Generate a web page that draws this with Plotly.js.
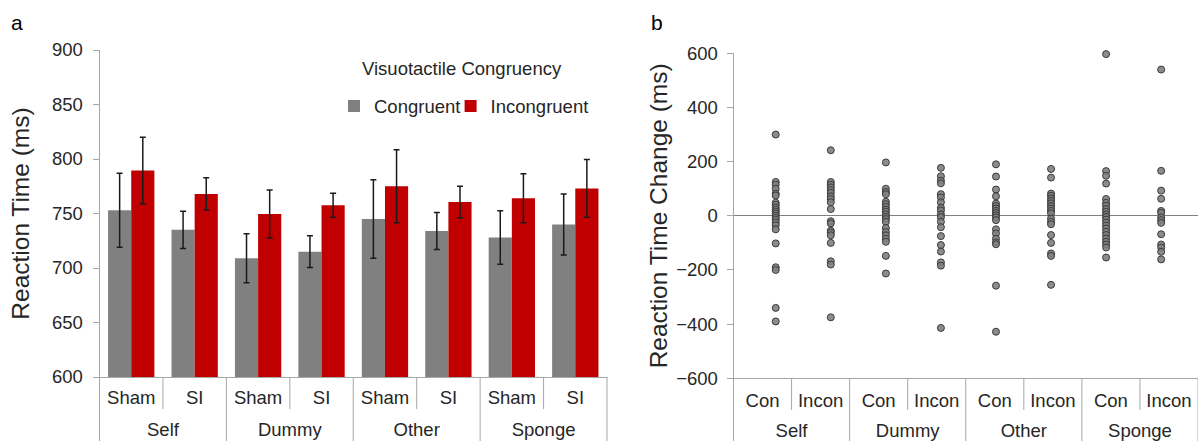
<!DOCTYPE html>
<html>
<head>
<meta charset="utf-8">
<script src="https://cdn.plot.ly/plotly-3.0.1.min.js"></script>
<style>html,body{margin:0;padding:0;background:#fff}#chart{width:1198px;height:441px}</style>
</head>
<body>
<div id="chart"></div>
<script>
// ---------- Data ----------
const bodyParts = ['Self', 'Dummy', 'Other', 'Sponge'];
const stimTypes = ['Sham', 'SI'];
const congruencyLabels = ['Con', 'Incon'];
const legendTitle = 'Visuotactile Congruency';

// Panel a: mean reaction times (ms), order: Self Sham, Self SI, Dummy Sham, Dummy SI, Other Sham, Other SI, Sponge Sham, Sponge SI
const congruentRT   = [753, 735, 709, 715, 745, 734, 728, 740];
const congruentErr  = [34, 17, 22.5, 14.5, 36, 17, 24.5, 28];
const incongruentRT = [789.5, 768, 749.5, 757.5, 775, 760.5, 764, 773];
const incongruentErr= [30.5, 14.7, 22, 11, 33.5, 14.5, 22.5, 26.5];

// Panel b: individual reaction time changes (ms)
const selfCon    = [300, 125, 115, 100, 82, 75, 48, 40, 30, 22, 15, 8, 0, -8, -15, -25, -35, -50, -102, -190, -200, -340, -390];
const selfIncon  = [242, 125, 115, 105, 95, 85, 72, 62, 50, 25, -20, -28, -55, -62, -72, -100, -168, -180, -375];
const dummyCon   = [197, 100, 88, 80, 52, 43, 33, 23, 15, 5, -4, -12, -22, -45, -60, -72, -85, -96, -148, -213];
const dummyIncon = [177, 146, 130, 120, 80, 68, 50, 30, 20, 5, -5, -22, -42, -75, -108, -132, -172, -184, -414];
const otherCon   = [190, 145, 97, 72, 45, 36, 27, 18, 10, 2, -6, -16, -50, -65, -84, -98, -105, -258, -428];
const otherIncon = [173, 141, 82, 74, 64, 55, 46, 36, 27, 18, 9, -10, -22, -31, -71, -100, -139, -148, -255];
const spongeCon  = [597, 165, 148, 119, 62, 48, 37, 25, 15, 5, -4, -14, -25, -36, -47, -59, -71, -84, -96, -106, -117, -154];
const spongeIncon= [540, 166, 93, 63, 18, 11, -6, -16, -26, -68, -106, -117, -133, -161];
const changeColumns = [selfCon, selfIncon, dummyCon, dummyIncon, otherCon, otherIncon, spongeCon, spongeIncon];

// ---------- Build ----------
const keysA = [], innerA = [];
bodyParts.forEach(b => stimTypes.forEach(s => { keysA.push(b + ' ' + s); innerA.push(s); }));
const innerB = [];
bodyParts.forEach(() => congruencyLabels.forEach(c => innerB.push(c)));
const idxB = innerB.map((_, i) => i);
const outerTickVals = bodyParts.map((_, k) => 2 * k + 0.5);

const dotX = [], dotY = [];
changeColumns.forEach((col, i) => col.forEach(v => { dotX.push(i + 1); dotY.push(v); }));

const errStyle = {type: 'data', visible: true, color: '#1a1a1a', thickness: 1.5, width: 3};
const FONT = 'Liberation Sans, Arial, Helvetica, sans-serif';
const AXC = '#a6a6a6';
const TXT = '#262626';
const FS = 18.5;

function ghost(xs, yv, xa, ya) {
  return {type: 'scatter', mode: 'markers', x: xs, y: xs.map(() => yv), marker: {opacity: 0},
    showlegend: false, hoverinfo: 'skip', xaxis: xa, yaxis: ya};
}

const traces = [
  {type: 'bar', name: 'Congruent', x: keysA, y: congruentRT, legend: 'legend',
   marker: {color: '#808080'}, error_y: Object.assign({array: congruentErr}, errStyle),
   xaxis: 'x', yaxis: 'y', hoverinfo: 'y'},
  {type: 'bar', name: 'Incongruent', x: keysA, y: incongruentRT, legend: 'legend2',
   marker: {color: '#c00000'}, error_y: Object.assign({array: incongruentErr}, errStyle),
   xaxis: 'x', yaxis: 'y', hoverinfo: 'y'},
  ghost(outerTickVals, 600, 'x4', 'y'),
  ghost(idxB, 0, 'x2', 'y2'),
  ghost(outerTickVals, 0, 'x5', 'y2'),
  {type: 'scatter', mode: 'markers', x: dotX, y: dotY, showlegend: false, cliponaxis: false,
   marker: {size: 7, color: 'rgba(128,128,128,0.9)', line: {color: '#3a3a3a', width: 1}},
   xaxis: 'x3', yaxis: 'y2', hoverinfo: 'y'}
];

const H = 441, W = 1198;
const A_BOT = 377, B_BOT = 378.3;
const shapes = [];
function divider(xref, frac, yTop, yBot) {
  shapes.push({type: 'line', xref: xref, yref: 'paper', x0: frac, x1: frac,
    y0: (H - yTop) / H, y1: (H - yBot) / H, line: {color: AXC, width: 1}});
}
for (let k = 0; k <= 4; k++) { divider('x domain', k / 4, A_BOT, H); divider('x2 domain', k / 4, B_BOT, H); }
for (let k = 0; k < 4; k++) { divider('x domain', (2*k+1) / 8, A_BOT, 409); divider('x2 domain', (2*k+1) / 8, B_BOT, 410); }

const tickFont = {size: FS, family: FONT, color: TXT};
const legendBase = {orientation: 'h', y: (H - 87.5) / H, xanchor: 'left', yanchor: 'top',
  bgcolor: 'rgba(0,0,0,0)', font: {size: FS}};

const layout = {
  width: W, height: H,
  margin: {l: 0, r: 0, t: 0, b: 0},
  paper_bgcolor: '#ffffff', plot_bgcolor: 'rgba(0,0,0,0)',
  font: {family: FONT, size: FS, color: TXT},
  barmode: 'group', bargap: 0.27, bargroupgap: 0,
  showlegend: true,
  legend: Object.assign({x: 334 / W}, legendBase),
  legend2: Object.assign({x: 450.6 / W}, legendBase),
  xaxis: {domain: [99.5 / W, 607 / W], anchor: 'y', type: 'category',
    tickmode: 'array', tickvals: keysA, ticktext: innerA, ticks: '', ticklabelstandoff: 4,
    showline: true, linecolor: AXC, linewidth: 1, showgrid: false, zeroline: false, tickfont: tickFont},
  xaxis4: {overlaying: 'x', anchor: 'free', position: (H - 416.5) / H, type: 'linear', range: [-0.5, 7.5],
    tickmode: 'array', tickvals: outerTickVals, ticktext: bodyParts, ticks: '',
    showline: false, showgrid: false, zeroline: false, tickfont: tickFont},
  yaxis: {domain: [(H - A_BOT) / H, (H - 50) / H], anchor: 'x', range: [600, 900], tick0: 600, dtick: 50,
    showline: true, linecolor: AXC, ticks: 'outside', ticklen: 6, tickcolor: AXC, ticklabelstandoff: 6,
    showgrid: false, zeroline: false, tickfont: tickFont,
    title: {text: 'Reaction Time (ms)', font: {size: 24.5, color: TXT}, standoff: 15}},
  xaxis2: {domain: [733.5 / W, 1], anchor: 'y2', type: 'linear', range: [-0.5, 7.5],
    tickmode: 'array', tickvals: idxB, ticktext: innerB, ticks: '', ticklabelstandoff: 5,
    showline: true, linecolor: AXC, linewidth: 1, showgrid: false, zeroline: false, tickfont: tickFont},
  xaxis3: {overlaying: 'x2', anchor: 'y2', range: [0.233, 8.669], visible: false, showgrid: false, zeroline: false},
  xaxis5: {overlaying: 'x2', anchor: 'free', position: (H - 417.5) / H, type: 'linear', range: [-0.5, 7.5],
    tickmode: 'array', tickvals: outerTickVals, ticktext: bodyParts, ticks: '',
    showline: false, showgrid: false, zeroline: false, tickfont: tickFont},
  yaxis2: {domain: [(H - B_BOT) / H, (H - 53.3) / H], anchor: 'x2', range: [-600, 600], tick0: -600, dtick: 200,
    showline: true, linecolor: AXC, ticks: 'outside', ticklen: 6, tickcolor: AXC, ticklabelstandoff: 5,
    showgrid: false, zeroline: true, zerolinecolor: '#808080', zerolinewidth: 1, tickfont: tickFont,
    title: {text: 'Reaction Time Change (ms)', font: {size: 24.5, color: TXT}, standoff: 1}},
  shapes: shapes,
  annotations: [
    {text: legendTitle, xref: 'paper', yref: 'paper', x: 359.7 / W, y: (H - 68.5) / H, showarrow: false,
     xanchor: 'left', yanchor: 'middle', font: {size: FS, color: TXT}},
    {text: 'a', xref: 'paper', yref: 'paper', x: 16.5 / W, y: (H - 22.7) / H, showarrow: false,
     xanchor: 'center', yanchor: 'middle', font: {size: 21, color: '#000'}},
    {text: 'b', xref: 'paper', yref: 'paper', x: 656.5 / W, y: (H - 22.7) / H, showarrow: false,
     xanchor: 'center', yanchor: 'middle', font: {size: 21, color: '#000'}}
  ]
};

Plotly.newPlot('chart', traces, layout, {displayModeBar: false, staticPlot: true});
</script>
</body>
</html>
